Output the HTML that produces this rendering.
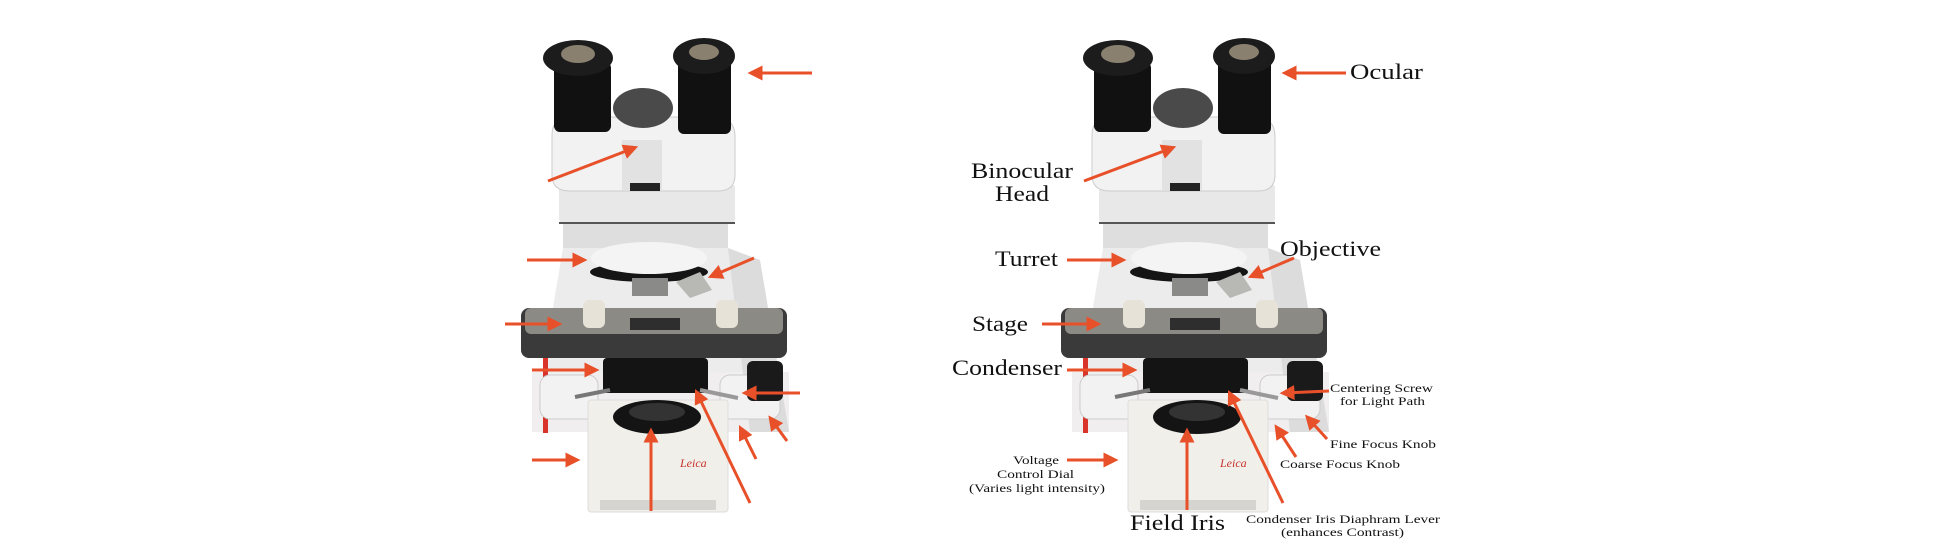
<!DOCTYPE html>
<html><head><meta charset="utf-8"><style>
html,body{margin:0;padding:0;background:#fff;}
svg{display:block}
text{font-family:"Liberation Serif",serif;fill:#111}
</style></head><body>
<svg width="1944" height="555" viewBox="0 0 1944 555" xmlns="http://www.w3.org/2000/svg">
<defs>
<marker id="ah" markerWidth="5" markerHeight="5" refX="3.5" refY="2.5" orient="auto" markerUnits="strokeWidth">
<path d="M0,0 L5,2.5 L0,5 z" fill="#e8502a"/></marker>
<g id="m">
<polygon points="563,248 728,248 789,432 532,432" fill="#ececec"/>
<rect x="532" y="372" width="257" height="60" fill="#f0eeee"/>
<polygon points="728,248 760,260 789,432 750,432" fill="#dcdcdc"/>
<rect x="543" y="358" width="5" height="75" fill="#d9342a"/>
<rect x="563" y="223" width="165" height="25" fill="#dedede"/>
<rect x="559" y="184" width="176" height="39" rx="4" fill="#e8e8e8"/>
<line x1="559" y1="223" x2="735" y2="223" stroke="#555" stroke-width="2"/>
<path d="M552,135 Q552,117 572,117 L715,117 Q735,117 735,137 L735,175 Q735,191 718,191 L570,191 Q552,191 552,175 z" fill="#f2f2f2" stroke="#ccc"/>
<rect x="622" y="140" width="40" height="50" fill="#e2e2e2"/>
<rect x="630" y="183" width="30" height="8" fill="#222"/>
<ellipse cx="643" cy="108" rx="30" ry="20" fill="#4a4a4a"/>
<rect x="554" y="62" width="57" height="70" rx="6" fill="#111"/>
<ellipse cx="578" cy="58" rx="35" ry="18" fill="#1c1c1c"/>
<ellipse cx="578" cy="54" rx="17" ry="9" fill="#8a8070"/>
<rect x="678" y="58" width="53" height="76" rx="6" fill="#111"/>
<ellipse cx="704" cy="56" rx="31" ry="18" fill="#1c1c1c"/>
<ellipse cx="704" cy="52" rx="15" ry="8" fill="#8a8070"/>
<ellipse cx="649" cy="272" rx="59" ry="10" fill="#151515"/>
<ellipse cx="649" cy="258" rx="58" ry="16" fill="#f4f4f4"/>
<rect x="632" y="278" width="36" height="18" fill="#8a8a88"/>
<polygon points="676,282 700,272 712,290 690,298" fill="#b8b8b4"/>
<rect x="540" y="375" width="58" height="44" rx="10" fill="#f2f2f2" stroke="#ccc"/>
<rect x="720" y="375" width="60" height="44" rx="10" fill="#f2f2f2" stroke="#ccc"/>
<rect x="747" y="361" width="36" height="40" rx="6" fill="#1a1a1a"/>
<rect x="521" y="308" width="266" height="50" rx="8" fill="#3a3a3a"/>
<rect x="525" y="308" width="258" height="26" rx="6" fill="#8c8a84"/>
<rect x="630" y="318" width="50" height="12" fill="#2e2e2e"/>
<rect x="583" y="300" width="22" height="28" rx="6" fill="#e6e2d8"/>
<rect x="716" y="300" width="22" height="28" rx="6" fill="#e6e2d8"/>
<rect x="603" y="358" width="105" height="35" rx="4" fill="#141414"/>
<line x1="575" y1="397" x2="610" y2="390" stroke="#777" stroke-width="4"/>
<line x1="700" y1="390" x2="738" y2="398" stroke="#999" stroke-width="4"/>
<rect x="588" y="400" width="140" height="112" rx="3" fill="#f1efea" stroke="#ddd"/>
<rect x="600" y="500" width="116" height="10" fill="#d6d4ce"/>
<ellipse cx="657" cy="417" rx="44" ry="17" fill="#141414"/>
<ellipse cx="657" cy="412" rx="28" ry="9" fill="#333"/>
<text x="680" y="467" font-size="12" font-style="italic" style="fill:#c8302a">Leica</text>
</g>
</defs>
<use href="#m"/>
<use href="#m" x="540"/>
<g stroke="#e8502a" stroke-width="3" fill="none" marker-end="url(#ah)">
<line x1="812" y1="73" x2="752" y2="73"/>
<line x1="548" y1="181" x2="634" y2="148"/>
<line x1="527" y1="260" x2="583" y2="260"/>
<line x1="754" y1="258" x2="712" y2="276"/>
<line x1="505" y1="324" x2="558" y2="324"/>
<line x1="532" y1="370" x2="595" y2="370"/>
<line x1="800" y1="393" x2="746" y2="393"/>
<line x1="787" y1="441" x2="771" y2="419"/>
<line x1="756" y1="459" x2="741" y2="429"/>
<line x1="532" y1="460" x2="576" y2="460"/>
<line x1="651" y1="511" x2="651" y2="432"/>
<line x1="750" y1="503" x2="697" y2="393"/>
<line x1="1346" y1="73" x2="1286" y2="73"/>
<line x1="1084" y1="181" x2="1172" y2="148"/>
<line x1="1067" y1="260" x2="1122" y2="260"/>
<line x1="1294" y1="258" x2="1252" y2="276"/>
<line x1="1042" y1="324" x2="1097" y2="324"/>
<line x1="1067" y1="370" x2="1133" y2="370"/>
<line x1="1329" y1="391" x2="1284" y2="393"/>
<line x1="1327" y1="439" x2="1308" y2="418"/>
<line x1="1296" y1="457" x2="1277" y2="428"/>
<line x1="1067" y1="460" x2="1114" y2="460"/>
<line x1="1187" y1="510" x2="1187" y2="432"/>
<line x1="1283" y1="503" x2="1230" y2="394"/>
</g>
<g lengthAdjust="spacingAndGlyphs">
<text x="1350" y="79" font-size="22" textLength="73" lengthAdjust="spacingAndGlyphs">Ocular</text>
<text x="971" y="178" font-size="22" textLength="102" lengthAdjust="spacingAndGlyphs">Binocular</text>
<text x="995" y="201" font-size="22" textLength="54" lengthAdjust="spacingAndGlyphs">Head</text>
<text x="995" y="266" font-size="22" textLength="63" lengthAdjust="spacingAndGlyphs">Turret</text>
<text x="1280" y="256" font-size="22" textLength="101" lengthAdjust="spacingAndGlyphs">Objective</text>
<text x="972" y="331" font-size="22" textLength="56" lengthAdjust="spacingAndGlyphs">Stage</text>
<text x="952" y="375" font-size="22" textLength="110" lengthAdjust="spacingAndGlyphs">Condenser</text>
<text x="1330" y="392" font-size="12" textLength="103" lengthAdjust="spacingAndGlyphs">Centering Screw</text>
<text x="1340" y="405" font-size="12" textLength="85" lengthAdjust="spacingAndGlyphs">for Light Path</text>
<text x="1330" y="448" font-size="12" textLength="106" lengthAdjust="spacingAndGlyphs">Fine Focus Knob</text>
<text x="1280" y="468" font-size="12" textLength="120" lengthAdjust="spacingAndGlyphs">Coarse Focus Knob</text>
<text x="1013" y="464" font-size="12" textLength="46" lengthAdjust="spacingAndGlyphs">Voltage</text>
<text x="997" y="478" font-size="12" textLength="77" lengthAdjust="spacingAndGlyphs">Control Dial</text>
<text x="969" y="492" font-size="12" textLength="136" lengthAdjust="spacingAndGlyphs">(Varies light intensity)</text>
<text x="1130" y="530" font-size="22" textLength="95" lengthAdjust="spacingAndGlyphs">Field Iris</text>
<text x="1246" y="523" font-size="12" textLength="194" lengthAdjust="spacingAndGlyphs">Condenser Iris Diaphram Lever</text>
<text x="1281" y="536" font-size="12" textLength="123" lengthAdjust="spacingAndGlyphs">(enhances Contrast)</text>
</g>
</svg>
</body></html>
